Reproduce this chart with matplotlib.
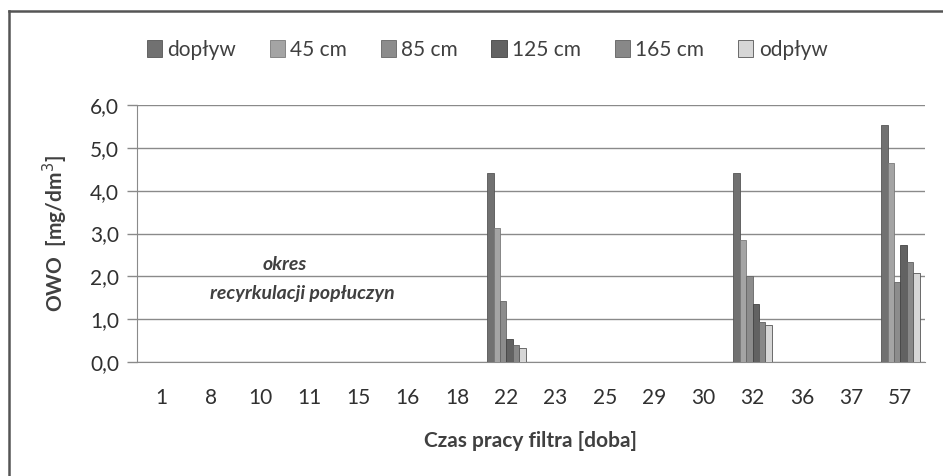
import matplotlib.pyplot as plt
import numpy as np
from matplotlib.lines import Line2D

plt.rcParams['font.family'] = ['Lato', 'DejaVu Sans']

# dane
doby = ['1', '8', '10', '11', '15', '16', '18', '22', '23', '25', '29', '30', '32', '36', '37', '57']
serie = ['dopływ', '45 cm', '85 cm', '125 cm', '165 cm', 'odpływ']

doplyw = [0, 0, 0, 0, 0, 0, 0, 4.42, 0, 0, 0, 0, 4.42, 0, 0, 5.53]
cm45 = [0, 0, 0, 0, 0, 0, 0, 3.12, 0, 0, 0, 0, 2.84, 0, 0, 4.65]
cm85 = [0, 0, 0, 0, 0, 0, 0, 1.42, 0, 0, 0, 0, 2.00, 0, 0, 1.86]
cm125 = [0, 0, 0, 0, 0, 0, 0, 0.53, 0, 0, 0, 0, 1.35, 0, 0, 2.74]
cm165 = [0, 0, 0, 0, 0, 0, 0, 0.40, 0, 0, 0, 0, 0.93, 0, 0, 2.33]
odplyw = [0, 0, 0, 0, 0, 0, 0, 0.33, 0, 0, 0, 0, 0.86, 0, 0, 2.07]

wartosci = [doplyw, cm45, cm85, cm125, cm165, odplyw]
kolory = ['#717171', '#a4a4a4', '#8c8c8c', '#626262', '#888888', '#d6d6d6']
krawedzie = ['#555555', '#7a7a7a', '#666666', '#444444', '#606060', '#555555']

fig = plt.figure(figsize=(9.43, 4.76), dpi=100)
ax = fig.add_axes([137/943, 1-362/476, (925-137)/943, (362-105)/476])

x = np.arange(len(doby))
szer = 0.13
for i, (v, k, e) in enumerate(zip(wartosci, kolory, krawedzie)):
    ax.bar(x + (i - 2.5)*szer, v, szer, color=k, edgecolor=e, linewidth=0.6,
           label=serie[i], zorder=3)

ax.set_xlim(-0.5, len(doby)-0.5)
ax.set_ylim(0, 6)
ax.set_yticks(np.arange(0, 6.1, 1))
ax.set_yticklabels([f'{t:.1f}'.replace('.', ',') for t in np.arange(0, 6.1, 1)],
                   fontsize=15, color='#303030')
ax.set_xticks(x)
ax.set_xticklabels(doby, fontsize=15, color='#303030')
ax.tick_params(axis='x', length=0, pad=19)
ax.tick_params(axis='y', length=7, width=1, color='#8a8a8a', pad=6)
ax.grid(axis='y', color='#8a8a8a', linewidth=1, zorder=0)

for s in ['top', 'right']:
    ax.spines[s].set_visible(False)
ax.spines['left'].set_color('#8a8a8a')
ax.spines['bottom'].set_color('#8a8a8a')

ax.set_ylabel('OWO  [mg/dm$^3$]', fontsize=15, fontweight='bold', color='#404040', labelpad=14)
ax.set_xlabel('Czas pracy filtra [doba]', fontsize=15, fontweight='bold', color='#404040', labelpad=16)

ax.text(2.5, 2.27, 'okres', fontsize=14, fontweight='bold', style='italic',
        color='#404040', ha='center', va='center')
ax.text(2.85, 1.61, 'recyrkulacji popłuczyn', fontsize=14, fontweight='bold', style='italic',
        color='#404040', ha='center', va='center')

fig.legend(loc='center', bbox_to_anchor=(487/943, 1-50/476), ncol=6, frameon=False,
           fontsize=15, handlelength=0.75, handleheight=0.85, handletextpad=0.25,
           columnspacing=1.6, labelcolor='#404040')

# ramka wykresu (lewa i gorna krawedz)
fig.add_artist(Line2D([9/943, 9/943], [0, 1-11/476], color='#555555', linewidth=1.8))
fig.add_artist(Line2D([9/943, 1], [1-11/476, 1-11/476], color='#555555', linewidth=1.8))

plt.savefig('out.png', dpi=100)
